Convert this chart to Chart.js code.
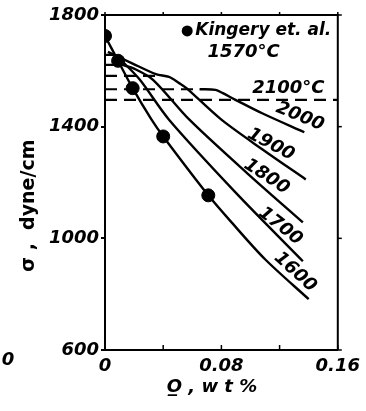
<!DOCTYPE html>
<html>
<head>
<meta charset="utf-8">
<script src="https://cdn.jsdelivr.net/npm/chart.js@4"></script>
<style>
  body { margin: 0; background: #fff; }
</style>
</head>
<body>
<canvas id="chart" width="366" height="411"></canvas>
<script>
// Kingery et al. 1570°C
const kingeryO = [0, 0.009, 0.019, 0.040, 0.071];
const kingerySigma = [1725, 1636, 1538, 1365, 1154];

// calculated curves, O wt% vs surface tension
const o1600 = [0, 0.009, 0.019, 0.032, 0.040, 0.071, 0.087, 0.110, 0.140];
const s1600 = [1725, 1636, 1538, 1425, 1365, 1154, 1057, 925, 782];
const o1700 = [0.007, 0.013, 0.024, 0.044, 0.090, 0.136];
const s1700 = [1657, 1628, 1568, 1425, 1163, 918];
const o1800 = [0.012, 0.020, 0.033, 0.058, 0.098, 0.136];
const s1800 = [1621, 1608, 1568, 1425, 1232, 1057];
const o1900 = [0.002, 0.019, 0.035, 0.044, 0.051, 0.056, 0.080, 0.110, 0.138];
const s1900 = [1668, 1626, 1588, 1578, 1556, 1538, 1425, 1312, 1211];
const o2000 = [0.065, 0.076, 0.081, 0.089, 0.108, 0.137];
const s2000 = [1534, 1532, 1520, 1498, 1448, 1380];

// pure iron levels (dashed), one per temperature
const dashTemps = [1700, 1800, 1900, 2000, 2100];
const dashSigma = [1657, 1621, 1582, 1534, 1496];
const dashEndO = [0.007, 0.012, 0.035, 0.065, 0.16];

const xTickLabels = ["0", "", "0.08", "", "0.16"];
const yTickLabels = ["600", "1000", "1400", "1800"];
const curveLabels = ["1600", "1700", "1800", "1900", "2000", "2100°C"];

const pts = (xs, ys) => xs.map((x, i) => ({ x: x, y: ys[i] }));

const boldItalic = (size) => ({ family: "DejaVu Sans", size: size, weight: "bold", style: "italic" });

const solid = (xs, ys) => ({
    data: pts(xs, ys),
    borderColor: "#000",
    borderWidth: 2.4,
    pointRadius: 0,
    tension: 0.3,
    fill: false
});

const datasets = [
    solid(o1600, s1600),
    solid(o1700, s1700),
    solid(o1800, s1800),
    solid(o1900, s1900),
    solid(o2000, s2000)
];

dashTemps.forEach((t, i) => {
    datasets.push({
        data: pts([0, dashEndO[i]], [dashSigma[i], dashSigma[i]]),
        borderColor: "#000",
        borderWidth: 2.2,
        borderDash: [12, 7],
        pointRadius: 0,
        fill: false
    });
});

datasets.push({
    data: pts(kingeryO, kingerySigma),
    showLine: false,
    pointRadius: 6.5,
    pointBackgroundColor: "#000",
    pointBorderColor: "#000"
});

// where the texts sit, in data units, and their rotation
const labelSpots = [
    { x: 0.1307, y: 879, rot: 42 },
    { x: 0.1205, y: 1043, rot: 38 },
    { x: 0.111, y: 1221, rot: 33 },
    { x: 0.114, y: 1336, rot: 28 },
    { x: 0.134, y: 1436, rot: 22 },
    { x: 0.126, y: 1539, rot: 0 }
];

const decorations = {
    id: "decorations",
    afterDraw(chart) {
        const ctx = chart.ctx;
        const a = chart.chartArea;
        const xs = chart.scales.x;
        const ys = chart.scales.y;
        ctx.save();
        ctx.strokeStyle = "#000";
        ctx.lineWidth = 2;
        // top and right border
        ctx.beginPath();
        ctx.moveTo(a.left, a.top);
        ctx.lineTo(a.right, a.top);
        ctx.lineTo(a.right, a.bottom);
        ctx.stroke();
        // small ticks: inward on bottom, outward on top and right
        ctx.lineWidth = 1.5;
        xs.ticks.forEach(t => {
            const px = xs.getPixelForValue(t.value);
            ctx.beginPath();
            ctx.moveTo(px, a.bottom);
            ctx.lineTo(px, a.bottom - 5);
            ctx.moveTo(px, a.top);
            ctx.lineTo(px, a.top - 3);
            ctx.stroke();
        });
        ys.ticks.forEach(t => {
            const py = ys.getPixelForValue(t.value);
            ctx.beginPath();
            ctx.moveTo(a.right, py);
            ctx.lineTo(a.right + 4, py);
            ctx.stroke();
        });

        ctx.fillStyle = "#000";
        // curve labels
        ctx.font = "italic bold 18px 'DejaVu Sans'";
        ctx.textAlign = "center";
        ctx.textBaseline = "middle";
        curveLabels.forEach((txt, i) => {
            const s = labelSpots[i];
            ctx.save();
            ctx.translate(xs.getPixelForValue(s.x), ys.getPixelForValue(s.y));
            ctx.rotate(s.rot * Math.PI / 180);
            ctx.fillText(txt, 0, 0);
            ctx.restore();
        });

        // legend
        const lx = xs.getPixelForValue(0.0565);
        const ly = ys.getPixelForValue(1743);
        ctx.beginPath();
        ctx.arc(lx, ly, 5.5, 0, Math.PI * 2);
        ctx.fill();
        ctx.font = "italic bold 17px 'DejaVu Sans'";
        ctx.textAlign = "left";
        ctx.fillText("Kingery et. al.", lx + 8, ly);
        ctx.font = "italic bold 18px 'DejaVu Sans'";
        ctx.textAlign = "center";
        ctx.fillText("1570°C", xs.getPixelForValue(0.0953), ys.getPixelForValue(1668));

        // stray zero at the far left of the scan
        ctx.fillText("0", 8, a.bottom + 10);
        ctx.restore();
    }
};

new Chart(document.getElementById("chart"), {
    type: "line",
    data: { datasets: datasets },
    options: {
        responsive: false,
        animation: false,
        devicePixelRatio: 1,
        layout: { padding: { top: 15, right: 26, left: 0, bottom: 0 } },
        plugins: { legend: { display: false }, tooltip: { enabled: false } },
        scales: {
            x: {
                type: "linear",
                min: 0,
                max: 0.16,
                ticks: {
                    stepSize: 0.04,
                    color: "#000",
                    font: boldItalic(18),
                    padding: 6,
                    maxRotation: 0,
                    autoSkip: false,
                    callback: (v, i) => xTickLabels[i]
                },
                grid: { display: false, drawTicks: false },
                border: { color: "#000", width: 2 },
                title: {
                    display: true,
                    text: "O\u0332 , w t %   ",
                    color: "#000",
                    font: boldItalic(18),
                    padding: { top: 0, bottom: 13 }
                },
                afterFit: s => { s.height = 61; }
            },
            y: {
                min: 600,
                max: 1800,
                ticks: {
                    stepSize: 400,
                    color: "#000",
                    font: boldItalic(18),
                    padding: 2,
                    callback: (v, i) => yTickLabels[i]
                },
                grid: { drawOnChartArea: false, color: "#000", lineWidth: 2, tickLength: 4 },
                border: { color: "#000", width: 2 },
                title: {
                    display: true,
                    text: "σ ,  dyne/cm       ",
                    color: "#000",
                    font: { family: "DejaVu Sans", size: 19, weight: "bold" },
                    padding: { top: 18, bottom: 0 }
                },
                afterFit: s => { s.width = 105; }
            }
        }
    },
    plugins: [decorations]
});
</script>
</body>
</html>
